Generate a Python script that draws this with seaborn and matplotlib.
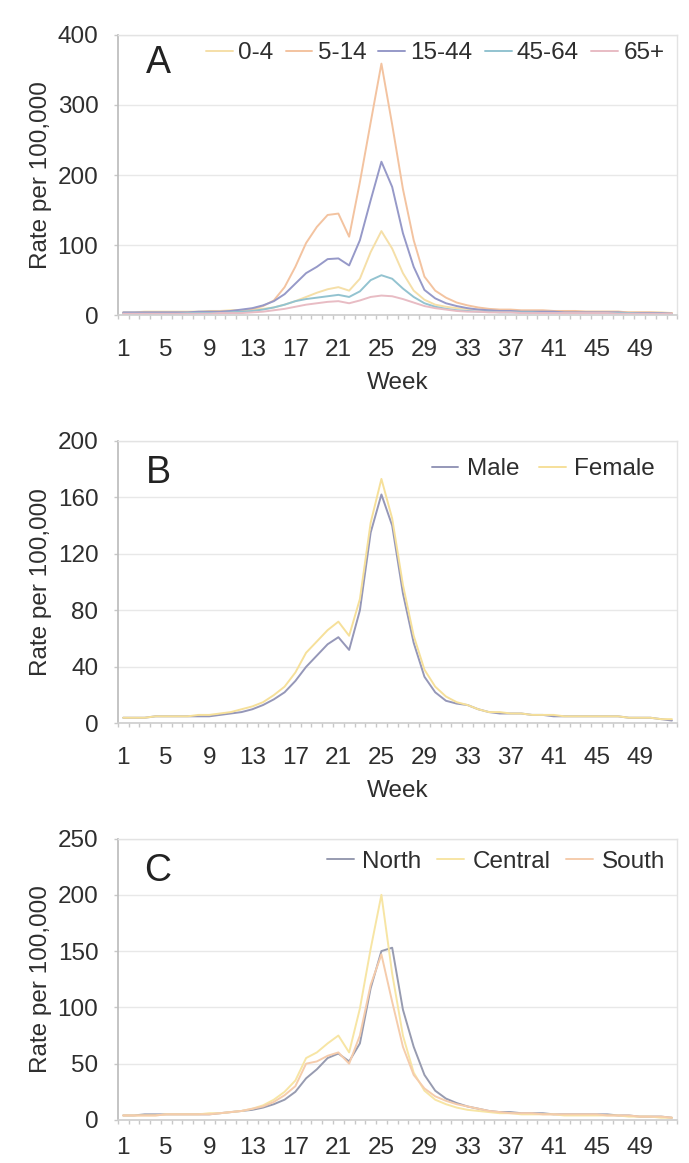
import numpy as np
import pandas as pd
import seaborn as sns
import matplotlib.pyplot as plt
from matplotlib.ticker import FixedLocator, NullFormatter

weeks = list(range(1, 53))

# panel A - age groups
age_0_4 = [4, 4, 5, 5, 5, 5, 5, 5, 6, 6, 7, 7,
           8, 9, 11, 15, 20, 26, 32, 37, 40, 35, 52, 90,
           120, 95, 60, 35, 22, 15, 12, 10, 9, 8, 7, 7,
           6, 6, 6, 6, 6, 5, 5, 5, 5, 5, 5, 4, 4, 4, 4, 3]
age_5_14 = [3, 3, 4, 4, 4, 4, 4, 4, 5, 5, 6, 7,
            9, 13, 21, 40, 69, 103, 126, 143, 145, 112, 190, 275,
            359, 272, 180, 107, 55, 35, 25, 18, 14, 11, 9, 8,
            8, 7, 7, 7, 6, 6, 6, 5, 5, 5, 5, 4, 4, 4, 3, 3]
age_15_44 = [4, 4, 4, 4, 4, 4, 4, 5, 5, 5, 6, 8,
             10, 14, 20, 30, 45, 60, 69, 80, 81, 71, 107, 164,
             219, 183, 117, 69, 36, 24, 17, 13, 10, 8, 7, 6,
             6, 5, 5, 5, 5, 4, 4, 4, 4, 4, 4, 3, 3, 3, 3, 2]
age_45_64 = [2, 2, 2, 2, 2, 2, 3, 3, 3, 3, 4, 5,
             6, 8, 11, 15, 20, 23, 25, 27, 29, 26, 34, 50,
             57, 52, 38, 26, 17, 12, 9, 7, 6, 5, 5, 4,
             4, 4, 4, 3, 3, 3, 3, 3, 3, 3, 3, 3, 2, 2, 2, 2]
age_65 = [2, 2, 2, 2, 2, 2, 2, 2, 2, 3, 3, 3,
          4, 5, 7, 9, 12, 15, 17, 19, 20, 17, 21, 26,
          28, 27, 23, 18, 13, 10, 8, 6, 5, 5, 4, 4,
          4, 3, 3, 3, 3, 3, 3, 3, 3, 3, 2, 2, 2, 2, 2, 2]
age_labels = ["0-4", "5-14", "15-44", "45-64", "65+"]

# panel B - sex
male = [4, 4, 4, 5, 5, 5, 5, 5, 5, 6, 7, 8,
        10, 13, 17, 22, 30, 40, 48, 56, 61, 52, 80, 135,
        162, 140, 92, 57, 33, 22, 16, 14, 13, 10, 8, 7,
        7, 7, 6, 6, 5, 5, 5, 5, 5, 5, 5, 4, 4, 4, 3, 2]
female = [4, 4, 4, 5, 5, 5, 5, 6, 6, 7, 8, 10,
          12, 15, 20, 26, 36, 50, 58, 66, 72, 62, 88, 142,
          173, 145, 98, 62, 38, 26, 19, 15, 13, 10, 8, 8,
          7, 7, 6, 6, 6, 5, 5, 5, 5, 5, 5, 4, 4, 4, 3, 3]
sex_labels = ["Male", "Female"]

# panel C - region
north = [4, 4, 5, 5, 5, 5, 5, 5, 5, 6, 7, 8,
         9, 11, 14, 18, 25, 37, 45, 55, 59, 52, 68, 117,
         150, 153, 98, 65, 40, 26, 19, 15, 12, 10, 8, 7,
         7, 6, 6, 6, 5, 5, 5, 5, 5, 5, 4, 4, 3, 3, 3, 2]
central = [4, 4, 4, 4, 5, 5, 5, 5, 6, 6, 7, 8,
           10, 13, 18, 25, 35, 55, 60, 68, 75, 60, 99, 152,
           200, 130, 75, 42, 26, 18, 14, 11, 9, 8, 7, 6,
           6, 5, 5, 5, 5, 4, 4, 4, 4, 4, 4, 3, 3, 3, 2, 2]
south = [4, 4, 4, 4, 5, 5, 5, 5, 5, 6, 7, 8,
         10, 12, 16, 22, 30, 50, 52, 57, 60, 50, 75, 120,
         147, 105, 65, 40, 28, 21, 17, 14, 12, 10, 8, 7,
         6, 6, 6, 5, 5, 5, 5, 5, 5, 4, 4, 4, 3, 3, 3, 2]
region_labels = ["North", "Central", "South"]

tick_weeks = list(range(1, 50, 4))


def long_df(series, labels):
    frames = []
    for vals, lab in zip(series, labels):
        frames.append(pd.DataFrame({"Week": weeks, "Rate": vals, "Group": lab}))
    return pd.concat(frames, ignore_index=True)


sns.set_theme(style="white")
plt.rcParams['font.family'] = ['Liberation Sans', 'DejaVu Sans']
txt_col = "#2e2e2e"
fs = 17.5

fig = plt.figure(figsize=(6.89, 11.63), dpi=100)
left, width = 0.171, 0.812
axA = fig.add_axes([left, 0.729, width, 0.241])
axB = fig.add_axes([left, 0.378, width, 0.243])
axC = fig.add_axes([left, 0.037, width, 0.242])

panels = [
    (axA, long_df([age_0_4, age_5_14, age_15_44, age_45_64, age_65], age_labels),
     ["#F5DFA8", "#F3C3A0", "#9699C8", "#93C3D0", "#E8BCC4"],
     400, 100, "A", 0.90, (0.977, 0.935), 0.5, 0.22, 17),
    (axB, long_df([male, female], sex_labels),
     ["#9597B8", "#F6E09A"],
     200, 40, "B", 0.885, (0.96, 0.90), 0.8, 0.35, 17),
    (axC, long_df([north, central, south], region_labels),
     ["#979BB0", "#F7E5A4", "#F5CCAC"],
     250, 50, "C", 0.885, (0.978, 0.918), 0.65, 0.35, 12),
]

for ax, df, pal, ymax, ystep, letter, ly, lpos, colsp, htp, xpad in panels:
    sns.lineplot(data=df, x="Week", y="Rate", hue="Group", palette=pal,
                 linewidth=1.4, ax=ax, legend=True)
    ax.set_xlim(0.5, 52.5)
    ax.set_ylim(0, ymax)
    ax.set_yticks(np.arange(0, ymax + 1, ystep))
    ax.yaxis.grid(True, color="#E8E8E8", linewidth=1)
    ax.set_axisbelow(True)
    ax.xaxis.set_major_locator(FixedLocator(tick_weeks))
    ax.xaxis.set_minor_locator(FixedLocator(np.arange(0.5, 53, 1)))
    ax.xaxis.set_minor_formatter(NullFormatter())
    ax.tick_params(axis="x", which="major", length=0, pad=xpad,
                   labelsize=fs, labelcolor=txt_col)
    ax.tick_params(axis="x", which="minor", length=3, width=1,
                   color="#C8C8C8", direction="out", bottom=True)
    ax.tick_params(axis="y", length=3, width=1, color="#C8C8C8",
                   direction="out", left=True, pad=11,
                   labelsize=fs, labelcolor=txt_col)
    for side in ["top", "right"]:
        ax.spines[side].set_color("#E3E3E3")
        ax.spines[side].set_linewidth(1)
    ax.spines["left"].set_color("#BDBDBD")
    ax.spines["bottom"].set_color("#CFCFCF")
    ax.set_ylabel("Rate per 100,000", fontsize=fs, color=txt_col, labelpad=4)
    ax.text(0.072, ly, letter, transform=ax.transAxes, fontsize=27,
            color="#222222", ha="center", va="center")
    handles, labels = ax.get_legend_handles_labels()
    ax.legend(handles, labels, loc="center right", bbox_to_anchor=lpos,
              ncol=len(labels), frameon=False, fontsize=fs,
              handlelength=1.1, handletextpad=htp, columnspacing=colsp,
              borderpad=0, borderaxespad=0, labelcolor=txt_col)

axA.set_xlabel("Week", fontsize=fs, color=txt_col, labelpad=8)
axB.set_xlabel("Week", fontsize=fs, color=txt_col, labelpad=8)
axC.set_xlabel("")

fig.savefig("out.png", dpi=100)
